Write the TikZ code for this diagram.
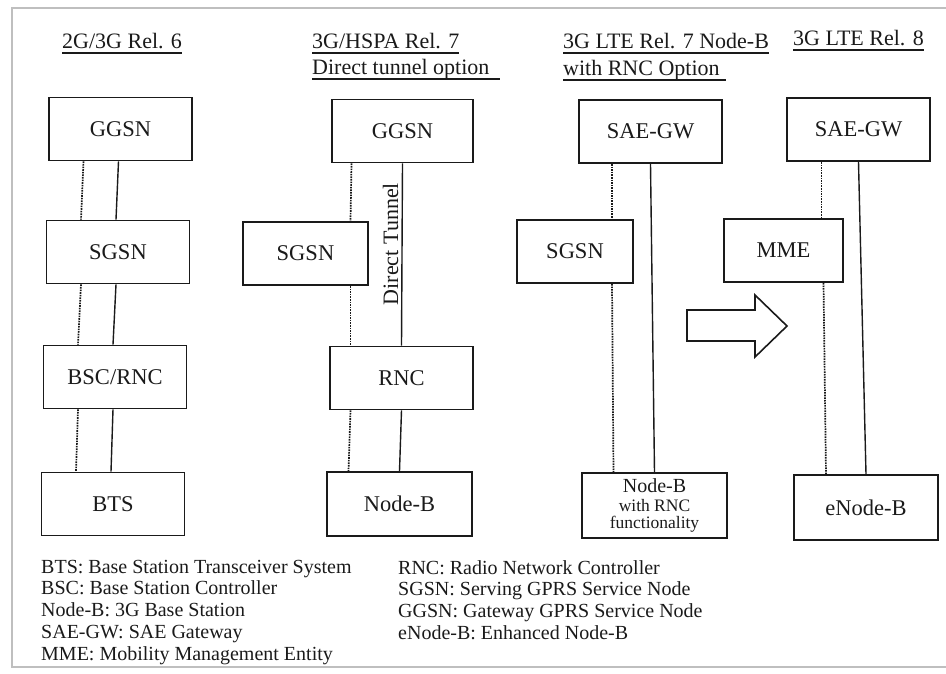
\documentclass[tikz,border=0pt]{standalone}
\usepackage{fontspec}
\setmainfont{Liberation Serif}
\definecolor{ink}{HTML}{1A1A1A}
\newcommand{\headline}[2][0pt]{\setbox0=\hbox{#2}\rlap{\rule[-5.5pt]{\dimexpr\wd0+#1\relax}{1.4pt}}\copy0}
\tikzset{
  unit/.style={draw=ink, line width=1.8pt, minimum width=143pt, minimum height=63pt,
    inner sep=0pt, text=ink, font=\fontsize{22.5}{26}\selectfont},
  link/.style={draw=ink, line width=1.4pt},
  signal/.style={draw=ink, line width=1.7pt, dash pattern=on 1.6pt off 1pt},
  title/.style={anchor=base west, inner sep=0pt, text=ink, font=\fontsize{22}{26}\selectfont},
  legend/.style={anchor=base west, inner sep=0pt, text=ink, font=\fontsize{20}{22}\selectfont}
}
\begin{document}
\begin{tikzpicture}[x=1pt,y=-1pt]
    \useasboundingbox (0,0) rectangle (946,673);
    % page edge
    \draw[gray!50, line width=1.5pt] (946,8) -- (12,8) -- (12,667) -- (946,667);
    \clip (12,8) rectangle (946,665);
    % 2G/3G Rel. 6
    \node[title] (tA) at (62,48) {\headline{2G/3G Rel. 6}};
    \node[unit] (ggA) at (120.5,129) {GGSN};
    \node[unit] (sgA) at (118,252) {SGSN};
    \node[unit] (rncA) at (115,377) {BSC/RNC};
    \node[unit] (btsA) at (113,504) {BTS};
    \foreach \a/\b in {ggA/sgA, sgA/rncA, rncA/btsA} {
        \draw[signal] ([xshift=-37pt]\a.south) -- ([xshift=-37pt]\b.north);
        \draw[link] ([xshift=-2pt]\a.south) -- ([xshift=-2pt]\b.north);
    }
    % 3G/HSPA Rel. 7
    \node[title] (tB1) at (312,48) {\headline{3G/HSPA Rel. 7}};
    \node[title] (tB2) at (312,74) {\headline[11pt]{Direct tunnel option}};
    \node[unit, minimum width=141pt] (ggB) at (402.5,131) {GGSN};
    \node[unit, minimum width=125pt] (sgB) at (305.5,253.5) {SGSN};
    \node[unit] (rncB) at (401.5,378) {RNC};
    \node[unit, minimum width=145pt, minimum height=64pt] (nbB) at (399.5,504) {Node-B};
    \draw[signal] ([xshift=-51pt]ggB.south) -- ([xshift=45pt]sgB.north);
    \draw[signal] ([xshift=45pt]sgB.south) -- ([xshift=-51pt]rncB.north);
    \draw[signal] ([xshift=-51pt]rncB.south) -- ([xshift=-51pt]nbB.north);
    \draw[link] (ggB.south) -- (rncB.north)
        node[pos=0.443, rotate=90, anchor=south, inner sep=3pt, text=ink,
             font=\fontsize{22}{26}\selectfont] (dt) {Direct Tunnel};
    \draw[link] (rncB.south) -- (nbB.north);
    % 3G LTE Rel. 7 Node-B with RNC
    \node[title] (tC1) at (563,48) {\headline{3G LTE Rel. 7 Node-B}};
    \node[title] (tC2) at (563,75) {\headline[6pt]{with RNC Option}};
    \node[unit] (saeC) at (650.5,131.5) {SAE-GW};
    \node[unit, minimum width=116pt] (sgC) at (575,251.5) {SGSN};
    \node[unit, minimum width=145pt, minimum height=65pt, align=center,
          font=\fontsize{17.5}{17.5}\selectfont] (nbC) at (654.5,505.5)
        {{\fontsize{20}{20}\selectfont Node-B}\\[1pt] with RNC\\ functionality};
    \draw[signal] ([xshift=-38.5pt]saeC.south) -- ([xshift=37pt]sgC.north);
    \draw[signal] ([xshift=37pt]sgC.south) -- ([xshift=-41pt]nbC.north);
    \draw[link] (saeC.south) -- (nbC.north);
    % evolution arrow
    \draw[ink, line width=1.6pt, fill=white] (687,310) -- (755,310) -- (755,295) -- (787,326)
        -- (755,357) -- (755,341) -- (687,341) -- cycle;
    % 3G LTE Rel. 8
    \node[title] (tD) at (793,45) {\headline{3G LTE Rel. 8}};
    \node[unit] (saeD) at (858.5,129.5) {SAE-GW};
    \node[unit, minimum width=119pt] (mmeD) at (783.5,250.5) {MME};
    \node[unit, minimum width=144pt, minimum height=65pt] (enbD) at (866,507.5) {eNode-B};
    \draw[signal] ([xshift=-37pt]saeD.south) -- ([xshift=38pt]mmeD.north);
    \draw[signal] ([xshift=40pt]mmeD.south) -- ([xshift=-40pt]enbD.north);
    \draw[link] (saeD.south) -- (enbD.north);
    % abbreviations
    \foreach \txt [count=\i] in {BTS: Base Station Transceiver System, BSC: Base Station Controller,
        Node-B: 3G Base Station, SAE-GW: SAE Gateway, MME: Mobility Management Entity}
        \node[legend] (legL\i) at (41,{551.5+21.7*\i}) {\txt};
    \foreach \txt [count=\i] in {RNC: Radio Network Controller, SGSN: Serving GPRS Service Node,
        GGSN: Gateway GPRS Service Node, eNode-B: Enhanced Node-B}
        \node[legend] (legR\i) at (398,{552.5+21.7*\i}) {\txt};
\end{tikzpicture}
\end{document}
